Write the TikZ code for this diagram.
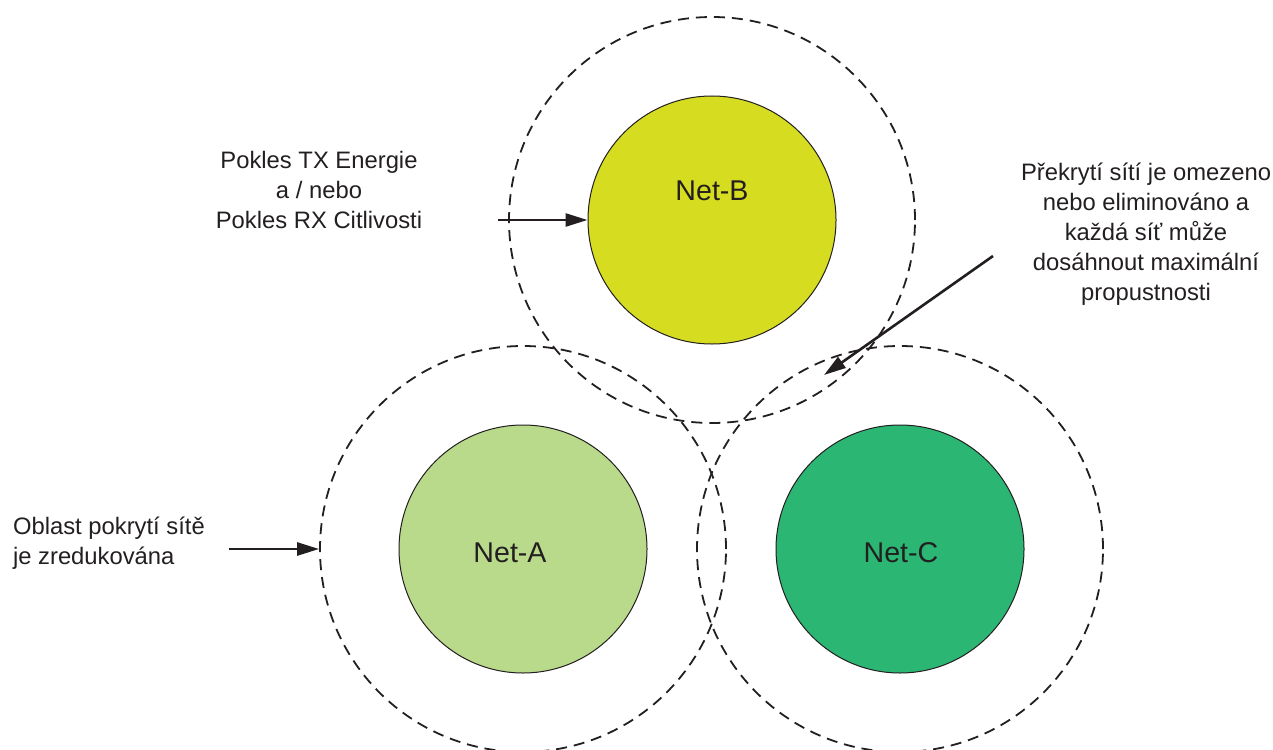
\documentclass[tikz,border=0pt]{standalone}
\usepackage{fontspec}
\setmainfont{Liberation Sans}
\usetikzlibrary{arrows.meta}
\definecolor{netAfill}{HTML}{B9D98B}
\definecolor{netBfill}{HTML}{D6DC20}
\definecolor{netCfill}{HTML}{2BB673}
\definecolor{inkgray}{HTML}{231F20}

\begin{document}
\begin{tikzpicture}[x=0.5pt, y=-0.5pt,
    net/.style={circle, draw=inkgray, line width=0.5pt, minimum size=124pt, inner sep=0pt},
    coverage/.style={circle, draw=inkgray, dash pattern=on 5.5pt off 3.5pt, line width=0.9pt,
                     minimum size=203pt, inner sep=0pt},
    netlabel/.style={font=\fontsize{14.3}{17}\selectfont, text=inkgray},
    note/.style={font=\fontsize{11.9}{15}\selectfont, text=inkgray, align=center},
    pointer/.style={-{Triangle[length=11pt,width=6.5pt]}, line width=1.3pt, draw=inkgray}]
  \useasboundingbox (0,0) rectangle (1273,749);

  % coverage areas
  \node[coverage] (covB) at (712,220) {};
  \node[coverage] (covA) at (523,549) {};
  \node[coverage] (covC) at (900,549) {};

  % networks
  \node[net, fill=netBfill] (netB) at (712,220) {};
  \node[net, fill=netAfill] (netA) at (523,549) {};
  \node[net, fill=netCfill] (netC) at (900,549) {};
  \node[netlabel] (labB) at (712,191) {Net-B};
  \node[netlabel] (labA) at (510,553) {Net-A};
  \node[netlabel] (labC) at (901,553) {Net-C};

  % notes
  \node[note] (txPower) at (319,190) {Pokles TX Energie\\a / nebo\\Pokles RX Citlivosti};
  \node[note] (overlap) at (1146,234) {Překrytí sítí je omezeno\\nebo eliminováno a\\každá síť může\\dosáhnout maximální\\propustnosti};
  \node[note, align=left, anchor=west] (reduced) at (6,543) {Oblast pokrytí sítě\\je zredukována};

  \coordinate (fromPower) at (498,220);
  \coordinate (fromReduced) at (229,549);
  \coordinate (fromOverlap) at (993,256);
  \coordinate (overlapBC) at (824,375);
  \draw[pointer] (fromPower) -- (netB);
  \draw[pointer] (fromReduced) -- (covA);
  \draw[pointer] (fromOverlap) -- (overlapBC);
\end{tikzpicture}
\end{document}
